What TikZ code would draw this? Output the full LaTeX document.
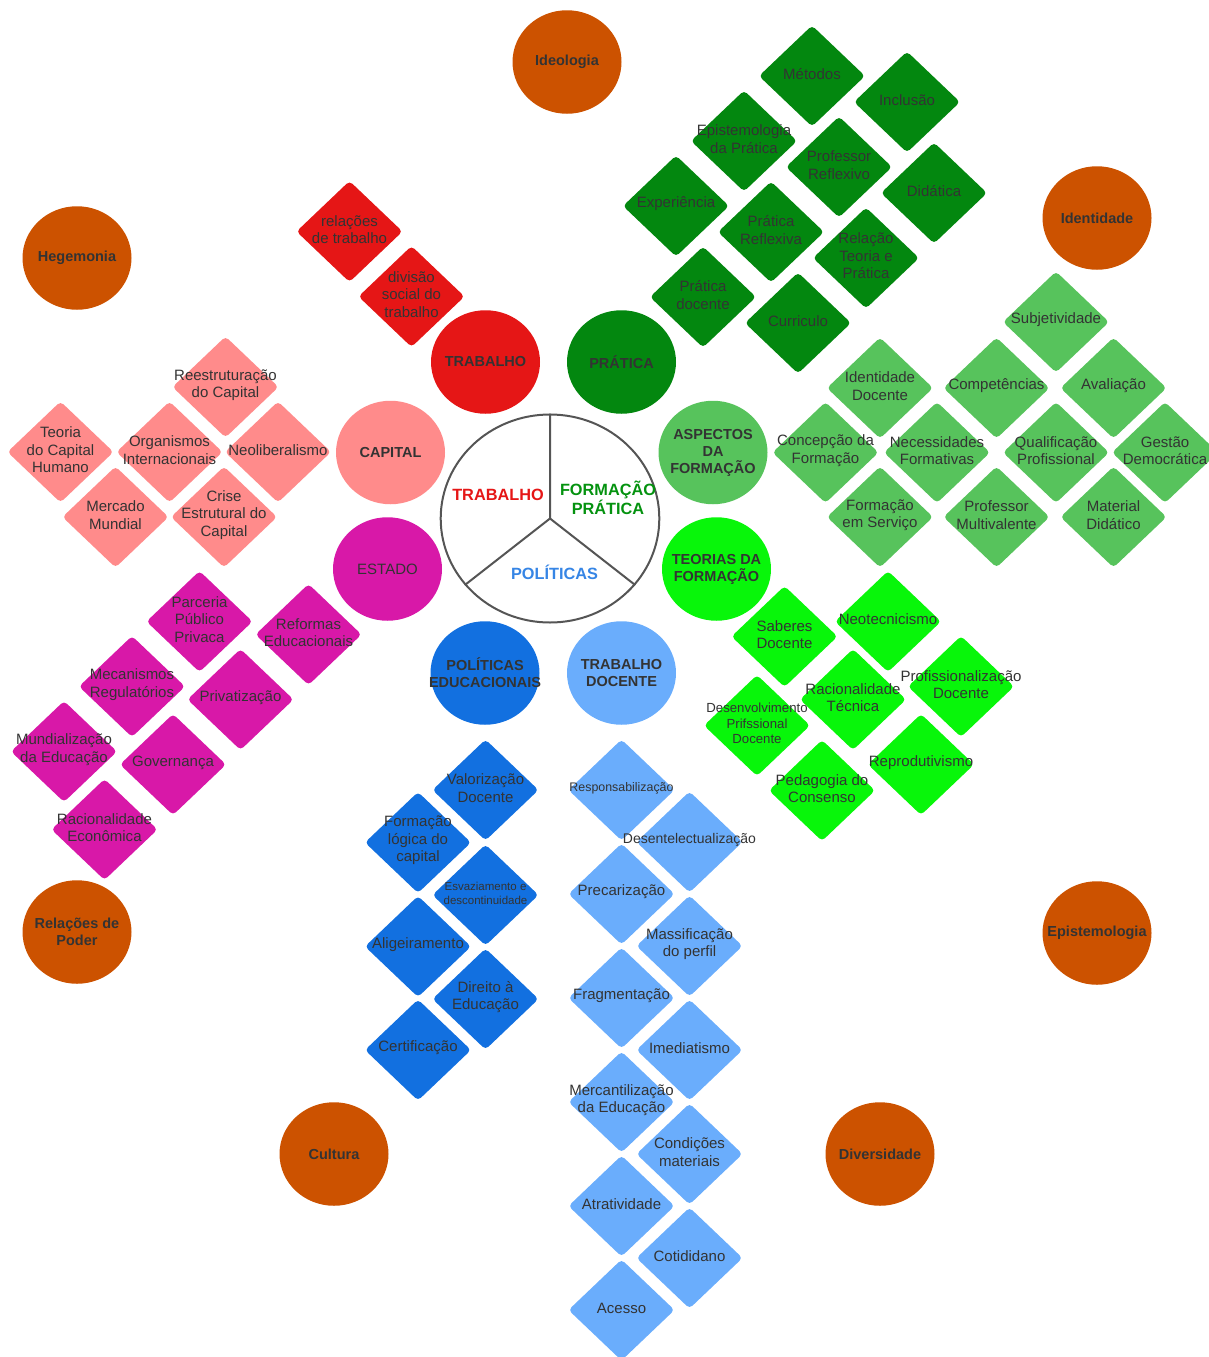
\documentclass[tikz,border=0pt]{standalone}
\usepackage{fontspec}
\setmainfont{Liberation Sans}
\usetikzlibrary{shapes.geometric}

\definecolor{txt}{HTML}{333333}
\definecolor{trab}{HTML}{E51616}
\definecolor{prat}{HTML}{03870F}
\definecolor{capt}{HTML}{FF8B8B}
\definecolor{aspc}{HTML}{57C35C}
\definecolor{estd}{HTML}{D818A8}
\definecolor{teor}{HTML}{08F60A}
\definecolor{polt}{HTML}{1270E0}
\definecolor{docn}{HTML}{6AADFC}
\definecolor{laranja}{HTML}{CC5200}
\definecolor{roda}{HTML}{555555}

\begin{document}
\begin{tikzpicture}[
        x=1pt, y=-1pt, % coordenadas em pixels, y para baixo
        cell/.style={align=center, text=txt, inner sep=0pt, font=\fontsize{15}{17.5}\selectfont},
        losango/.style={rounded corners=4pt},
        hub/.style={ellipse, minimum width=109pt, minimum height=103.5pt, inner xsep=-24pt, inner ysep=0pt, align=center, text=txt, font=\fontsize{14.5}{17}\selectfont\bfseries},
        tema/.style={hub, fill=laranja},
        fatia/.style={font=\fontsize{16.3}{19}\selectfont\bfseries, align=center, inner sep=0pt},
    ]
    \useasboundingbox (0,0) rectangle (1209,1357);

    % Trabalho
    \foreach \n/\x/\y/\t in {relacoes/349.5/231.5/relações\\de trabalho,
            divisao/411.5/296.5/divisão\\social do\\trabalho}{
        \fill[trab, losango] (\x,\y) +(-53,0) -- +(0,-50.5) -- +(53,0) -- +(0,50.5) -- cycle;
        \node[cell] (\n) at (\x,\y-2) {\t};
    }

    % Pratica
    \foreach \n/\x/\y/\t in {metodos/812/76/Métodos,
            inclusao/907/102/Inclusão,
            epist/744/141/Epistemologia\\da Prática,
            profrefl/839/167/Professor\\Reflexivo,
            didatica/934/193/Didática,
            experiencia/676/206/Experiência,
            pratrefl/771/232/Prática\\Reflexiva,
            relteoria/866/258/Relação\\Teoria e\\Prática,
            pratdoc/703/297/Prática\\docente,
            curriculo/798/323/Curriculo}{
        \fill[prat, losango] (\x,\y) +(-53,0) -- +(0,-50.5) -- +(53,0) -- +(0,50.5) -- cycle;
        \node[cell] (\n) at (\x,\y-2) {\t};
    }

    % Capital
    \foreach \n/\x/\y/\t in {reestr/225.5/387/Reestruturação\\do Capital,
            teoria/60.5/452/Teoria\\do Capital\\Humano,
            organismos/169.5/452/Organismos\\Internacionais,
            neolib/278/452/Neoliberalismo,
            mercado/115.5/517/Mercado\\Mundial,
            crise/224/517/Crise\\Estrutural do\\Capital}{
        \fill[capt, losango] (\x,\y) +(-53,0) -- +(0,-50.5) -- +(53,0) -- +(0,50.5) -- cycle;
        \node[cell] (\n) at (\x,\y-2) {\t};
    }

    % Aspectos da formacao
    \foreach \n/\x/\y/\t in {subjetividade/1056/322/Subjetividade,
            identdoc/880/388/Identidade\\Docente,
            competencias/996.5/388/Competências,
            avaliacao/1113.5/388/Avaliação,
            concepcao/825.5/452.5/Concepção da\\Formação,
            necessidades/937/452.5/Necessidades\\Formativas,
            qualificacao/1056/452.5/Qualificação\\Profissional,
            gestao/1165/452.5/Gestão\\Democrática,
            formservico/880/517/Formação\\em Serviço,
            multivalente/996.5/517/Professor\\Multivalente,
            material/1113.5/517/Material\\Didático}{
        \fill[aspc, losango] (\x,\y) +(-53,0) -- +(0,-50.5) -- +(53,0) -- +(0,50.5) -- cycle;
        \node[cell] (\n) at (\x,\y-2) {\t};
    }

    % Estado
    \foreach \n/\x/\y/\t in {parceria/199.5/621.5/Parceria\\Público\\Privaca,
            reformas/308.5/634.5/Reformas\\Educacionais,
            mecanismos/132/686.5/Mecanismos\\Regulatórios,
            privatizacao/240.5/699.5/Privatização,
            mundializacao/64/751.5/Mundialização\\da Educação,
            governanca/173/764.5/Governança,
            racecon/104.5/829.5/Racionalidade\\Econômica}{
        \fill[estd, losango] (\x,\y) +(-53,0) -- +(0,-50.5) -- +(53,0) -- +(0,50.5) -- cycle;
        \node[cell] (\n) at (\x,\y-2) {\t};
    }

    % Teorias da formacao
    \foreach \n/\x/\y/\t in {saberes/784.5/636.5/Saberes\\Docente,
            neotec/888/621.5/Neotecnicismo,
            ractec/853/699.5/Racionalidade\\Técnica,
            profissionalizacao/961/686.5/Profissionalização\\Docente,
            reprod/921/764.5/Reprodutivismo,
            pedagogia/822/790.5/Pedagogia do\\Consenso}{
        \fill[teor, losango] (\x,\y) +(-53,0) -- +(0,-50.5) -- +(53,0) -- +(0,50.5) -- cycle;
        \node[cell] (\n) at (\x,\y-2) {\t};
    }
    \fill[teor, losango] (757,725.5) +(-53,0) -- +(0,-50.5) -- +(53,0) -- +(0,50.5) -- cycle;
    \node[cell, font=\fontsize{13.2}{15.5}\selectfont] (desenv) at (757,723.5) {Desenvolvimento\\Prifssional\\Docente};

    % Politicas educacionais
    \foreach \n/\x/\y/\t in {valorizacao/485.5/790/Valorização\\Docente,
            formlogica/418/842.5/Formação\\lógica do\\capital,
            aligeiramento/418/946.5/Aligeiramento,
            direito/485.5/999/Direito à\\Educação,
            certificacao/418/1050/Certificação}{
        \fill[polt, losango] (\x,\y) +(-53,0) -- +(0,-50.5) -- +(53,0) -- +(0,50.5) -- cycle;
        \node[cell] (\n) at (\x,\y-2) {\t};
    }
    \fill[polt, losango] (485.5,895) +(-53,0) -- +(0,-50.5) -- +(53,0) -- +(0,50.5) -- cycle;
    \node[cell, font=\fontsize{11.5}{14}\selectfont] (esvaziamento) at (485.5,893) {Esvaziamento e\\descontinuidade};

    % Trabalho docente
    \foreach \n/\x/\y/\t in {precarizacao/621.5/894/Precarização,
            massificacao/689.5/946/Massificação\\do perfil,
            fragmentacao/621.5/998/Fragmentação,
            imediatismo/689.5/1050/Imediatismo,
            mercantil/621.5/1102/Mercantilização\\da Educação,
            condicoes/689.5/1154/Condições\\materiais,
            atratividade/621.5/1206/Atratividade,
            cotididano/689.5/1258/Cotididano,
            acesso/621.5/1310/Acesso}{
        \fill[docn, losango] (\x,\y) +(-53,0) -- +(0,-50.5) -- +(53,0) -- +(0,50.5) -- cycle;
        \node[cell] (\n) at (\x,\y-2) {\t};
    }
    \fill[docn, losango] (621.5,790) +(-53,0) -- +(0,-50.5) -- +(53,0) -- +(0,50.5) -- cycle;
    \node[cell, font=\fontsize{12.4}{15}\selectfont] (respons) at (621.5,788.5) {Responsabilização};
    \fill[docn, losango] (689.5,842) +(-53,0) -- +(0,-50.5) -- +(53,0) -- +(0,50.5) -- cycle;
    \node[cell, font=\fontsize{14}{16.5}\selectfont] (desentel) at (689.5,840) {Desentelectualização};

    % Circulos das categorias
    \node[hub, fill=trab] (trabalho) at (485.5,362) {TRABALHO};
    \node[hub, fill=prat] (pratica) at (621.5,362) {PRÁTICA};
    \node[hub, fill=capt] (capital) at (390.5,452.5) {CAPITAL};
    \node[hub, fill=aspc] (aspectos) at (713,452.5) {ASPECTOS\\DA\\FORMAÇÃO};
    \node[hub, fill=estd, font=\fontsize{15}{17}\selectfont] (estado) at (387.5,569) {ESTADO};
    \node[hub, fill=teor] (teorias) at (716.5,569) {TEORIAS DA\\FORMAÇÃO};
    \node[hub, fill=polt] (politicas) at (485,673) {POLÍTICAS\\EDUCACIONAIS};
    \node[hub, fill=docn] (trabdoc) at (621.5,673) {TRABALHO\\DOCENTE};

    % Temas transversais
    \node[tema] (ideologia) at (567,62) {Ideologia};
    \node[tema] (hegemonia) at (77,258) {Hegemonia};
    \node[tema] (identidade) at (1097,218) {Identidade};
    \node[tema] (relpoder) at (77,932) {Relações de\\Poder};
    \node[tema] (epistemologia) at (1097,933) {Epistemologia};
    \node[tema] (cultura) at (334,1154) {Cultura};
    \node[tema] (diversidade) at (880,1154) {Diversidade};

    % Roda central
    \node[ellipse, draw=roda, line width=2pt, minimum width=218.6pt, minimum height=208pt, inner sep=0pt] (roda) at (550,518.5) {};
    \draw[roda, line width=2pt] (roda.north) -- (roda.center) -- (roda.218);
    \draw[roda, line width=2pt] (roda.center) -- (roda.322);
    \node[fatia, text=trab] (ftrab) at (498,495) {TRABALHO};
    \node[fatia, text=prat!90!teor] (fform) at (608,498) {FORMAÇÃO\\PRÁTICA};
    \node[fatia, text=polt!85!white] (fpol) at (554.5,572.5) {POLÍTICAS};
\end{tikzpicture}
\end{document}
